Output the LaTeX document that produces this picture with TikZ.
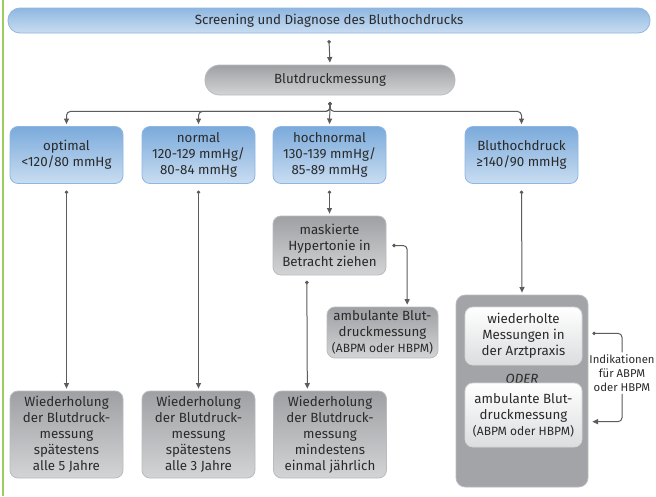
\documentclass[tikz,border=0pt]{standalone}
\usepackage{fontspec}
\setmainfont{Fira Sans}
\usetikzlibrary{arrows.meta, positioning, calc}
\definecolor{bluetop}{HTML}{7BAADB}
\definecolor{bluebot}{HTML}{C9DDF1}
\definecolor{blueline}{HTML}{8EB7E2}
\definecolor{graytop}{HTML}{9EA0A3}
\definecolor{graybot}{HTML}{D2D4D6}
\definecolor{grayline}{HTML}{B9BBBE}
\definecolor{outergray}{HTML}{A2A4A7}
\definecolor{whitebot}{HTML}{DCDDDF}
\definecolor{linkgray}{HTML}{5C5C5C}
\definecolor{txtgray}{HTML}{2A2A2A}
\definecolor{leafgreen}{HTML}{9CCB5E}

\begin{document}
\begin{tikzpicture}[
    x=0.75pt, y=-0.75pt,
    font=\fontsize{10}{12}\selectfont, text=txtgray,
    box/.style={draw, rounded corners=6pt, align=center, inner sep=2pt, line width=0.6pt},
    level/.style={box, top color=bluetop, bottom color=bluebot, draw=blueline, minimum width=84.75pt, minimum height=42.75pt},
    grey/.style={box, top color=graytop, bottom color=graybot, draw=grayline, minimum width=84.75pt},
    inner/.style={box, top color=white, bottom color=whitebot, draw=grayline!60, minimum width=87.75pt},
    pill/.style={box, rounded corners=9pt},
    link/.style={{Circle[length=2.6pt]}-{Triangle[length=4.2pt, width=3.8pt]}, line width=0.75pt, draw=linkgray, rounded corners=3pt, shorten >=1.5pt},
    plain/.style={{Circle[length=2.6pt]}-, line width=0.75pt, draw=linkgray, rounded corners=3pt},
    tip/.style={-{Triangle[length=4.2pt, width=3.8pt]}, line width=0.75pt, draw=linkgray, rounded corners=3pt}
]
\useasboundingbox[fill=white] (0,0) rectangle (656,496);
\draw[leafgreen, line width=1.6pt] (3,0) -- (3,496);

\node[pill, top color=bluetop!85, bottom color=bluebot, draw=blueline, minimum width=481.5pt, minimum height=18.75pt] (screen) at (329,20.5) {Screening und Diagnose des Bluthochdrucks};
\node[pill, rounded corners=11pt, top color=graytop, bottom color=graybot, draw=grayline, minimum width=187.5pt, minimum height=22.5pt] (mess) at (330,80) {Blutdruckmessung};

\node[level] (opt) at (66.5,155) {optimal\\<120/80 mmHg};
\node[level] (norm) at (198.5,155) {normal\\120-129 mmHg/\\80-84 mmHg};
\node[level] (hoch) at (329.5,155) {hochnormal\\130-139 mmHg/\\85-89 mmHg};
\node[level] (hyper) at (521.5,155) {Bluthochdruck\\≥140/90 mmHg};

\node[grey, minimum height=44.25pt] (mask) at (329.5,245.5) {maskierte\\Hypertonie in\\Betracht ziehen};
\node[grey, minimum width=83.25pt, minimum height=38.25pt] (amb) at (382.5,332.5) {ambulante Blut-\\druckmessung\\{\small(ABPM oder HBPM)}};

\node[grey, minimum height=65.25pt] (rep1) at (66.5,434.5) {Wiederholung\\der Blutdruck-\\messung\\spätestens\\alle 5 Jahre};
\node[grey, minimum height=65.25pt] (rep2) at (198.5,434.5) {Wiederholung\\der Blutdruck-\\messung\\spätestens\\alle 3 Jahre};
\node[grey, minimum height=65.25pt] (rep3) at (330,434.5) {Wiederholung\\der Blutdruck-\\messung\\mindestens\\einmal jährlich};

\node[box, rounded corners=7pt, fill=outergray, draw=grayline, minimum width=99pt, minimum height=144pt] (outer) at (522,391) {};
\node[inner, minimum height=43.5pt] (praxis) at (523.5,336) {wiederholte\\Messungen in\\der Arztpraxis};
\node (oder) at (522,378.5) {\textit{ODER}};
\node[inner, minimum height=48pt] (amb2) at (523.5,415) {ambulante Blut-\\druckmessung\\{\small(ABPM oder HBPM)}};
\node[font=\fontsize{8.5}{10.5}\selectfont, align=center, inner sep=1.5pt] (indik) at (622,373) {Indikationen\\für ABPM\\oder HBPM};

\draw[link] ([yshift=-5pt]screen.south) -- (mess.north);
\draw[link] ([yshift=-5pt]mess.south) -- ([yshift=-12pt]mess.south) -| (opt.north);
\draw[link] ([yshift=-5pt]mess.south) -- ([yshift=-12pt]mess.south) -| (norm.north);
\draw[link] ([yshift=-5pt]mess.south) -- (hoch.north);
\draw[link] ([yshift=-5pt]mess.south) -- ([yshift=-12pt]mess.south) -| (hyper.north);

\draw[link] ([yshift=-5pt]opt.south) -- (rep1.north);
\draw[link] ([yshift=-5pt]norm.south) -- (rep2.north);
\draw[link] ([yshift=-5pt]hoch.south) -- (mask.north);
\draw[link] ([yshift=-5pt]hyper.south) -- (outer.north);

\draw[link] ([xshift=4.5pt]mask.east) -| ([xshift=18.5pt]amb.north);
\draw[link] ([xshift=-17pt,yshift=-4pt]mask.south) -- ([xshift=-17pt]rep3.north);

\draw[plain] ([xshift=7.5pt,yshift=2pt]praxis.east) -| (indik.north);
\draw[tip] (indik.south) |- ([xshift=7.5pt,yshift=-5pt]amb2.east);
\end{tikzpicture}
\end{document}
